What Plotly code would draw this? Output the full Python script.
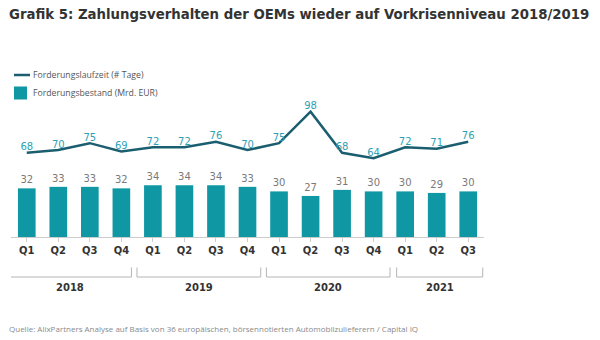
import plotly.graph_objects as go

quarters = ["Q1", "Q2", "Q3", "Q4", "Q1", "Q2", "Q3", "Q4", "Q1", "Q2", "Q3", "Q4", "Q1", "Q2", "Q3"]
years = ["2018", "2019", "2020", "2021"]
laufzeit = [68, 70, 75, 69, 72, 72, 76, 70, 75, 98, 68, 64, 72, 71, 76]
bestand = [32, 33, 33, 32, 34, 34, 34, 33, 30, 27, 31, 30, 30, 29, 30]

name_line = "Forderungslaufzeit (# Tage)"
name_bar = "Forderungsbestand (Mrd. EUR)"
title = "Grafik 5: Zahlungsverhalten der OEMs wieder auf Vorkrisenniveau 2018/2019"
source = "Quelle: AlixPartners Analyse auf Basis von 36 europäischen, börsennotierten Automobilzulieferern / Capital IQ"

W, H = 600, 340
ML, MR, MT, MB = 11, 116, 40, 103

x = list(range(len(quarters)))

BAR_C = "#0f97a3"
LINE_C = "#1b5e70"
LLAB_C = "#2f9fb5"
FONT = "DejaVu Sans"
FONT2 = "Open Sans"

fig = go.Figure()
fig.add_trace(go.Bar(
    x=x, y=bestand, name=name_bar, marker=dict(color=BAR_C, line=dict(width=0)),
    width=0.56, text=[str(v) for v in bestand], textposition="outside",
    textfont=dict(family=FONT, size=10, color="#7a7a7a"), cliponaxis=False,
    showlegend=False,
))
fig.add_trace(go.Scatter(
    x=x, y=laufzeit, name=name_line, yaxis="y2", mode="lines+text",
    line=dict(color=LINE_C, width=2.5), text=[str(v) for v in laufzeit],
    textposition="top center", textfont=dict(family=FONT, size=10, color=LLAB_C),
    cliponaxis=False, showlegend=False,
))

def dx(p):
    return (p - ML) / (W - ML - MR)

def dy(p):
    return (H - MB - p) / (H - MT - MB)

shapes = []
annotations = []

# year brackets (positions in category units)
bracket_pos = [(-0.60, 3.32), (3.495, 7.42), (7.60, 11.52), (11.73, 14.46)]
y_top, y_bot, y_lab = dy(267.5), dy(277), dy(287.5)
for (a, b), yr in zip(bracket_pos, years):
    for xx in (a, b):
        shapes.append(dict(type="line", xref="x", yref="paper", x0=xx, x1=xx, y0=y_top, y1=y_bot,
                           line=dict(color="#b5b5b5", width=1)))
    shapes.append(dict(type="line", xref="x", yref="paper", x0=a, x1=b, y0=y_bot, y1=y_bot,
                       line=dict(color="#b5b5b5", width=1)))
    annotations.append(dict(x=(a + b) / 2, y=y_lab, xref="x", yref="paper", text=f"<b>{yr}</b>",
                            showarrow=False, font=dict(family=FONT, size=10, color="#333333"),
                            xanchor="center", yanchor="middle"))

# manual legend
shapes.append(dict(type="line", xref="paper", yref="paper", x0=dx(14), x1=dx(30), y0=dy(75), y1=dy(75),
                   line=dict(color=LINE_C, width=2.5)))
shapes.append(dict(type="rect", xref="paper", yref="paper", x0=dx(14), x1=dx(27), y0=dy(86.5), y1=dy(99.5),
                   line=dict(width=0), fillcolor=BAR_C))
annotations.append(dict(x=dx(31), y=dy(75), xref="paper", yref="paper", text=name_line, showarrow=False,
                        xanchor="left", yanchor="middle", font=dict(family=FONT2, size=8.7, color="#555555")))
annotations.append(dict(x=dx(31), y=dy(93), xref="paper", yref="paper", text=name_bar, showarrow=False,
                        xanchor="left", yanchor="middle", font=dict(family=FONT2, size=8.7, color="#555555")))

# title and source
annotations.append(dict(x=dx(7), y=dy(14), xref="paper", yref="paper", text=f"<b>{title}</b>", showarrow=False,
                        xanchor="left", yanchor="middle", font=dict(family=FONT, size=13.3, color="#333333")))
annotations.append(dict(x=dx(7), y=dy(328.5), xref="paper", yref="paper", text=source, showarrow=False,
                        xanchor="left", yanchor="middle", font=dict(family=FONT2, size=8, color="#8a8a8a")))

fig.update_layout(
    width=W, height=H, margin=dict(l=ML, r=MR, t=MT, b=MB),
    paper_bgcolor="white", plot_bgcolor="white",
    showlegend=False,
    xaxis=dict(range=[-0.5, len(quarters) - 0.5], tickmode="array", tickvals=x, ticktext=quarters,
               showgrid=False, zeroline=False, showline=True, linecolor="#cccccc", linewidth=1,
               ticks="outside", tickson="boundaries", ticklen=4, tickcolor="#cccccc",
               tickfont=dict(family=FONT, size=10, color="#333333", weight="bold")),
    yaxis=dict(range=[0, 129.6], visible=False, fixedrange=True),
    yaxis2=dict(range=[6.5, 150.3], overlaying="y", visible=False),
    shapes=shapes, annotations=annotations,
)

fig.write_html("out.html")
